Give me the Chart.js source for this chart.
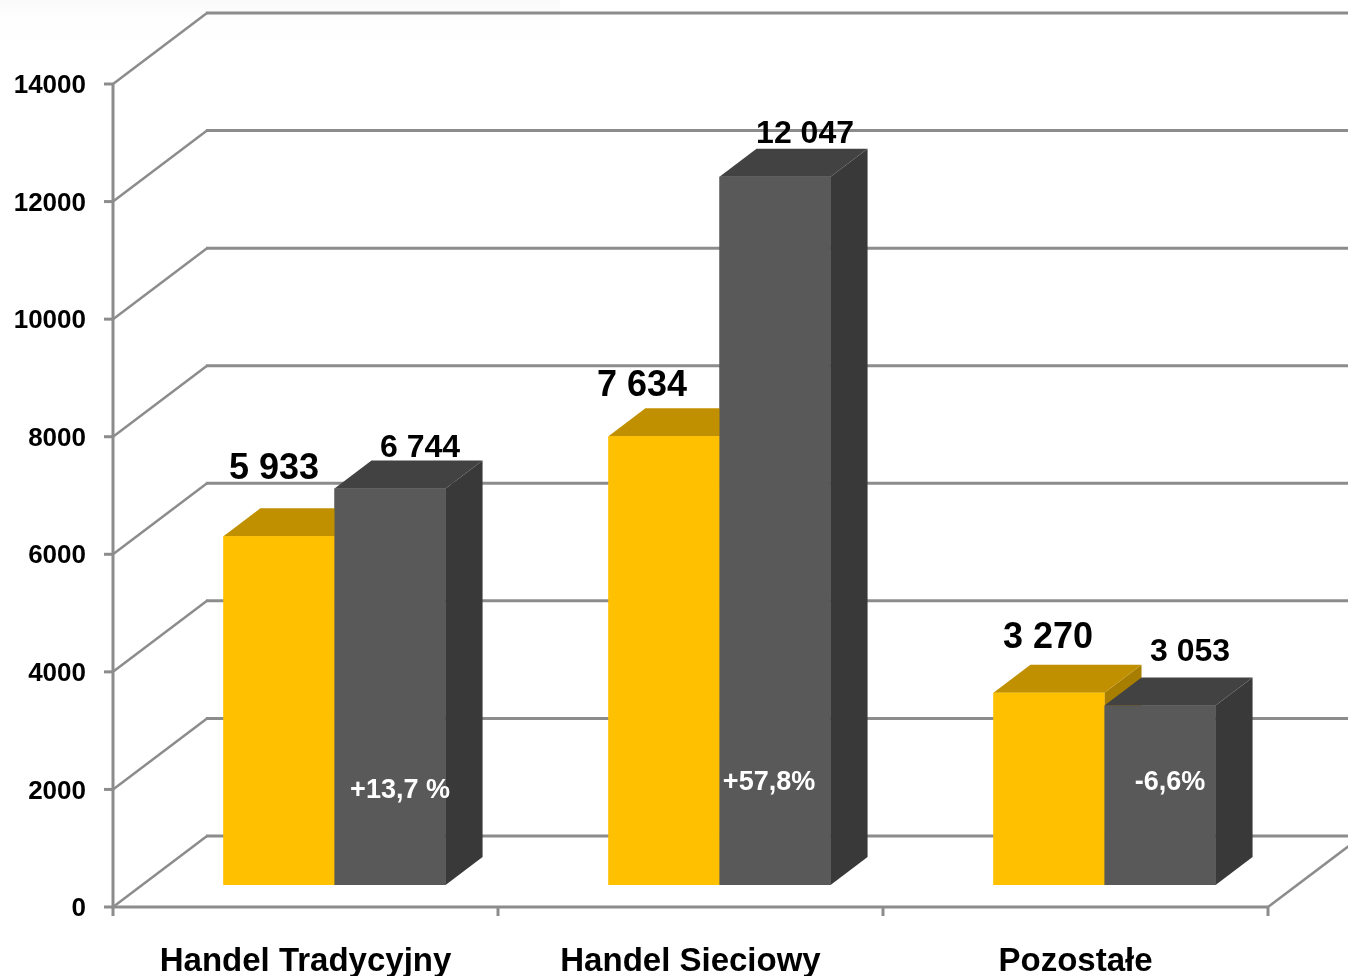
<!DOCTYPE html>
<html><head><meta charset="utf-8">
<script src="https://cdn.jsdelivr.net/npm/chart.js@4/dist/chart.umd.min.js"></script>
<style>html,body{margin:0;padding:0;background:#fff;}canvas{display:block}</style>
</head><body>
<canvas id="c" width="1348" height="976"></canvas>
<script>
// ---- data ----
const categories = ['Handel Tradycyjny', 'Handel Sieciowy', 'Pozostałe'];
const seriesPrev = [5933, 7634, 3270];
const seriesCurr = [6744, 12047, 3053];
const changeLabels = ['+13,7 %', '+57,8%', '-6,6%'];
const yMin = 0, yMax = 14000, yStep = 2000;

// ---- 3D geometry / styles (not data) ----
const FRONT_DX = -29, FRONT_DY = 22;     // front axis plane relative to bar front plane
const WALL_DX = 94, WALL_DY = -71;       // back wall relative to front axis plane
const BAR_DX = 37, BAR_DY = -28;         // bar depth
const GRID = '#8C8C8C';
const valueLabelOffsets = [
  [[-5, -67], [-22, -50], [-1, -55]],
  [[30, -40], [30, -43], [30, -53]]
];
const changeLabelOffsets = [[10, -94], [-6, -102], [10, -102]];

const fmt = v => String(v).replace(/\B(?=(\d{3})+(?!\d))/g, ' ');

function poly(ctx, pts, color) {
  ctx.beginPath();
  ctx.moveTo(pts[0][0], pts[0][1]);
  for (let i = 1; i < pts.length; i++) ctx.lineTo(pts[i][0], pts[i][1]);
  ctx.closePath();
  ctx.fillStyle = color;
  ctx.fill();
}

const threeD = {
  id: 'threeD',
  beforeDraw(chart) {
    const ctx = chart.ctx;
    const g = ctx.createLinearGradient(0, 0, 0, 45);
    g.addColorStop(0, 'rgba(240,240,240,0.35)');
    g.addColorStop(1, 'rgba(255,255,255,0)');
    ctx.save();
    ctx.fillStyle = g;
    ctx.fillRect(0, 0, 560, 45);
    ctx.restore();
  },
  beforeDatasetsDraw(chart) {
    const { ctx, chartArea: a, scales: { x, y } } = chart;
    ctx.save();
    ctx.strokeStyle = GRID;
    ctx.lineWidth = 3;
    const fx = a.left + FRONT_DX, fr = a.right + FRONT_DX;
    y.ticks.forEach(t => {
      const py = y.getPixelForValue(t.value) + FRONT_DY;
      ctx.lineWidth = 2.5;
      ctx.beginPath(); ctx.moveTo(fx, py); ctx.lineTo(fx + WALL_DX, py + WALL_DY); ctx.stroke();
      ctx.lineWidth = 3;
      ctx.beginPath(); ctx.moveTo(fx + WALL_DX - 1, py + WALL_DY); ctx.lineTo(chart.width, py + WALL_DY); ctx.stroke();
      ctx.beginPath(); ctx.moveTo(fx - 9, py); ctx.lineTo(fx, py); ctx.stroke();
    });
    const y0 = y.getPixelForValue(yMin) + FRONT_DY, yT = y.getPixelForValue(yMax) + FRONT_DY;
    ctx.beginPath(); ctx.moveTo(fx, yT); ctx.lineTo(fx, y0); ctx.lineTo(fr, y0); ctx.stroke();
    ctx.lineWidth = 2.5;
    ctx.beginPath(); ctx.moveTo(fr, y0); ctx.lineTo(fr + WALL_DX, y0 + WALL_DY); ctx.stroke();
    ctx.lineWidth = 3;
    for (let i = 0; i <= categories.length; i++) {
      const px = fx + i * (fr - fx) / categories.length;
      ctx.beginPath(); ctx.moveTo(px, y0); ctx.lineTo(px, y0 + 9); ctx.stroke();
    }
    ctx.restore();
  },
  afterDatasetsDraw(chart) {
    const ctx = chart.ctx;
    const m0 = chart.getDatasetMeta(0), m1 = chart.getDatasetMeta(1);
    const faces = (bar, ds) => {
      const p = bar.getProps(['x', 'y', 'base', 'width'], true);
      const l = p.x - p.width / 2, r = p.x + p.width / 2;
      poly(ctx, [[r, p.y], [r + BAR_DX, p.y + BAR_DY], [r + BAR_DX, p.base + BAR_DY], [r, p.base]], ds.sideColor);
      poly(ctx, [[l, p.y], [r, p.y], [r + BAR_DX, p.y + BAR_DY], [l + BAR_DX, p.y + BAR_DY]], ds.topColor);
    };
    ctx.save();
    categories.forEach((c, i) => {
      faces(m0.data[i], chart.data.datasets[0]);
      m0.data[i].draw(ctx);
      m1.data[i].draw(ctx);
      faces(m1.data[i], chart.data.datasets[1]);
    });
    ctx.restore();
  },
  afterDraw(chart) {
    const ctx = chart.ctx;
    ctx.save();
    ctx.textAlign = 'center';
    ctx.textBaseline = 'middle';
    [0, 1].forEach(d => {
      const meta = chart.getDatasetMeta(d);
      ctx.font = d === 0 ? 'bold 36px "Liberation Sans"' : 'bold 32px "Liberation Sans"';
      ctx.fillStyle = '#000';
      meta.data.forEach((bar, i) => {
        const o = valueLabelOffsets[d][i];
        ctx.fillText(fmt(chart.data.datasets[d].data[i]), bar.x + o[0], bar.y + o[1]);
      });
    });
    const m1 = chart.getDatasetMeta(1);
    ctx.font = 'bold 27px "Liberation Sans"';
    ctx.fillStyle = '#fff';
    m1.data.forEach((bar, i) => {
      const o = changeLabelOffsets[i];
      ctx.fillText(changeLabels[i], bar.x + o[0], bar.base + o[1]);
    });
    ctx.restore();
  }
};

new Chart(document.getElementById('c'), {
  type: 'bar',
  data: {
    labels: categories,
    datasets: [
      { label: 'prev', data: seriesPrev, backgroundColor: '#FFC000', topColor: '#C09000', sideColor: '#A87E00',
        categoryPercentage: 0.577, barPercentage: 1, borderWidth: 0 },
      { label: 'curr', data: seriesCurr, backgroundColor: '#595959', topColor: '#424242', sideColor: '#393939',
        categoryPercentage: 0.577, barPercentage: 1, borderWidth: 0 }
    ]
  },
  options: {
    responsive: false,
    animation: false,
    devicePixelRatio: 1,
    layout: { padding: { left: 0, right: 51, top: 62, bottom: 0 } },
    plugins: { legend: { display: false }, tooltip: { enabled: false } },
    scales: {
      x: {
        grid: { display: false, drawTicks: false },
        border: { display: false },
        ticks: { color: '#000', font: { family: '"Liberation Sans"', weight: 'bold', size: 33 }, padding: 57, labelOffset: -29, maxRotation: 0 },
        afterFit(s) { s.height = 91; s.paddingLeft = 0; s.paddingRight = 0; }
      },
      y: {
        min: yMin, max: yMax,
        grid: { display: false, drawTicks: false },
        border: { display: false },
        ticks: { stepSize: yStep, color: '#000', font: { family: '"Liberation Sans"', weight: 'bold', size: 26 }, padding: 56, labelOffset: 24,
          callback: v => String(v) },
        afterFit(s) { s.width = 142; s.paddingTop = 0; s.paddingBottom = 0; }
      }
    }
  },
  plugins: [threeD]
});
</script>
</body></html>
